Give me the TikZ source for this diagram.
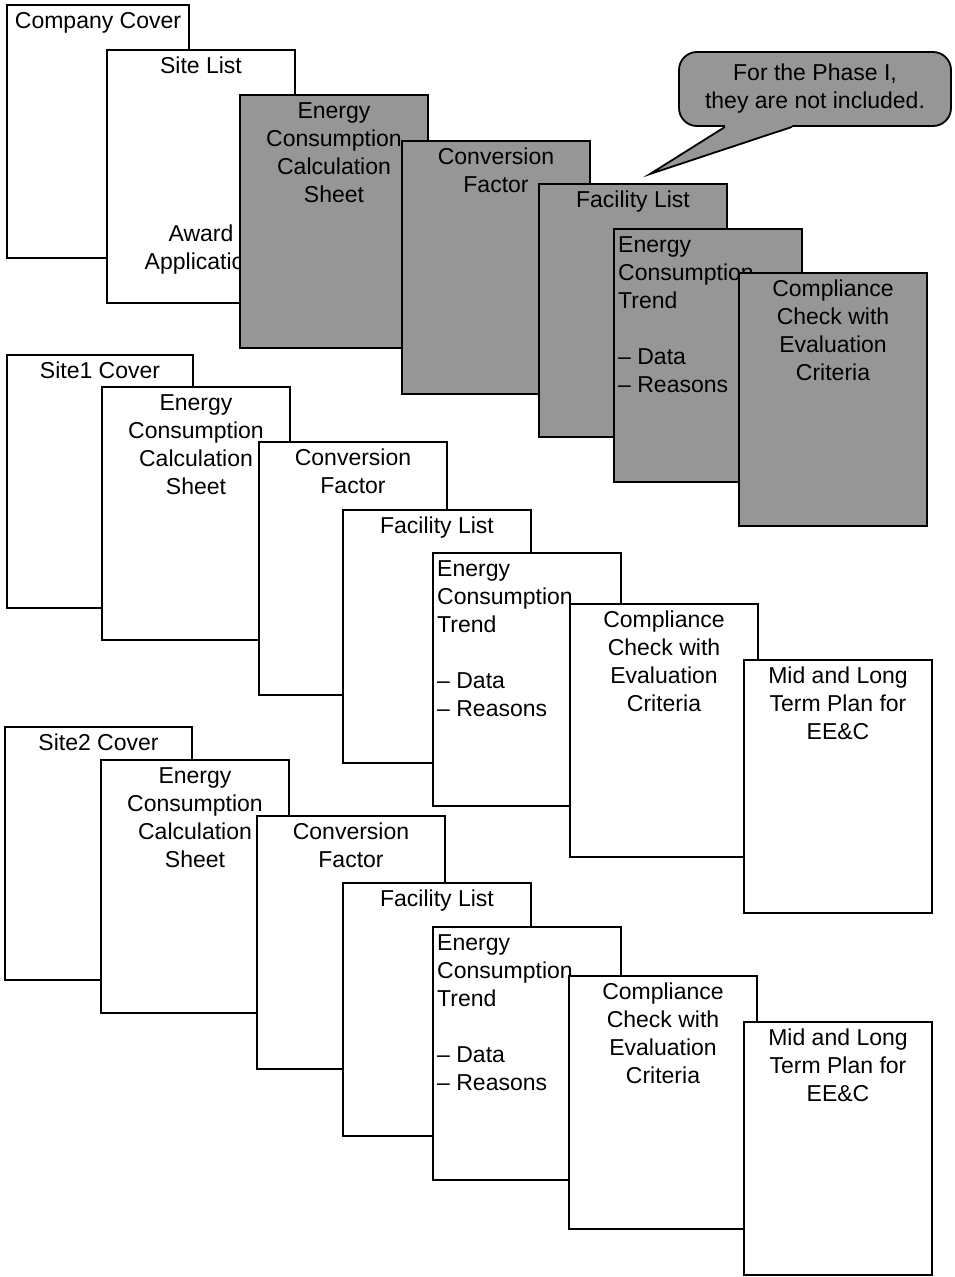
\documentclass[tikz,border=0pt]{standalone}
\usepackage{fontspec}
\setmainfont{Liberation Sans}
\usepackage{tikz}
\definecolor{sheetgray}{RGB}{150,150,150}

\begin{document}
\begin{tikzpicture}[x=1pt,y=-1pt]
  \tikzset{every node/.style={font=\fontsize{23pt}{28pt}\selectfont}}
  \tikzset{sheet/.style={draw,line width=1.8pt,fill=white,anchor=north west,outer sep=0pt,minimum width=188pt,minimum height=253pt}}
  \tikzset{grey sheet/.style={sheet,fill=sheetgray}}
  \tikzset{sheettitle/.style={anchor=north,align=center,inner ysep=7pt}}
  \tikzset{sheetleft/.style={anchor=north west,align=left,inner xsep=4pt,inner ysep=7pt}}
  \tikzset{note/.style={draw,line width=1.8pt,fill=sheetgray,rounded corners=18pt,minimum width=272pt,minimum height=74pt,align=center}}
  \useasboundingbox (0,0) rectangle (954,1277);
  % company part
  \node[sheet,minimum width=182pt] (cover) at (7,5) [label={[sheettitle]north:Company Cover}] {};
  \node[sheet] (sitelist) at (107,50) [label={[sheettitle]north:{Site List\\[140pt]Award\\Application}}] {};
  \node[grey sheet] (calc) at (240,95) [label={[sheettitle]north:{Energy\\Consumption\\Calculation\\Sheet}}] {};
  \node[grey sheet] (conv) at (402,141) [label={[sheettitle]north:{Conversion\\Factor}}] {};
  \node[grey sheet] (facility) at (539,184) [label={[sheettitle]north:Facility List}] {};
  \node[grey sheet] (trend) at (614,229) [label={[sheetleft]north west:{Energy\\Consumption\\Trend\\[28pt]– Data\\– Reasons}}] {};
  \node[grey sheet] (check) at (739,273) [label={[sheettitle]north:{Compliance\\Check with\\Evaluation\\Criteria}}] {};
  % note on phase I
  \node[note] (phase) at (815,89) {For the Phase I,\\they are not included.};
  \coordinate (tip) at (650,174);
  \fill[sheetgray] ([xshift=-90pt,yshift=2pt]phase.south) -- ([xshift=-90pt]phase.south) -- (tip)
    -- ([xshift=-23pt]phase.south) -- ([xshift=-23pt,yshift=2pt]phase.south) -- cycle;
  \draw[line width=1.8pt] ([xshift=-90pt]phase.south) -- (tip) -- ([xshift=-23pt]phase.south);
  % site 1
  \node[sheet,minimum width=186pt] (s1cover) at (7,355) [label={[sheettitle]north:Site1 Cover}] {};
  \node[sheet] (s1calc) at (102,387) [label={[sheettitle]north:{Energy\\Consumption\\Calculation\\Sheet}}] {};
  \node[sheet] (s1conv) at (259,442) [label={[sheettitle]north:{Conversion\\Factor}}] {};
  \node[sheet] (s1facility) at (343,510) [label={[sheettitle]north:Facility List}] {};
  \node[sheet] (s1trend) at (433,553) [label={[sheetleft]north west:{Energy\\Consumption\\Trend\\[28pt]– Data\\– Reasons}}] {};
  \node[sheet] (s1check) at (570,604) [label={[sheettitle]north:{Compliance\\Check with\\Evaluation\\Criteria}}] {};
  \node[sheet] (s1plan) at (744,660) [label={[sheettitle]north:{Mid and Long\\Term Plan for\\EE\&C}}] {};
  % site 2
  \node[sheet,minimum width=187pt] (s2cover) at (5,727) [label={[sheettitle]north:Site2 Cover}] {};
  \node[sheet] (s2calc) at (101,760) [label={[sheettitle]north:{Energy\\Consumption\\Calculation\\Sheet}}] {};
  \node[sheet] (s2conv) at (257,816) [label={[sheettitle]north:{Conversion\\Factor}}] {};
  \node[sheet] (s2facility) at (343,883) [label={[sheettitle]north:Facility List}] {};
  \node[sheet] (s2trend) at (433,927) [label={[sheetleft]north west:{Energy\\Consumption\\Trend\\[28pt]– Data\\– Reasons}}] {};
  \node[sheet] (s2check) at (569,976) [label={[sheettitle]north:{Compliance\\Check with\\Evaluation\\Criteria}}] {};
  \node[sheet] (s2plan) at (744,1022) [label={[sheettitle]north:{Mid and Long\\Term Plan for\\EE\&C}}] {};
\end{tikzpicture}
\end{document}
